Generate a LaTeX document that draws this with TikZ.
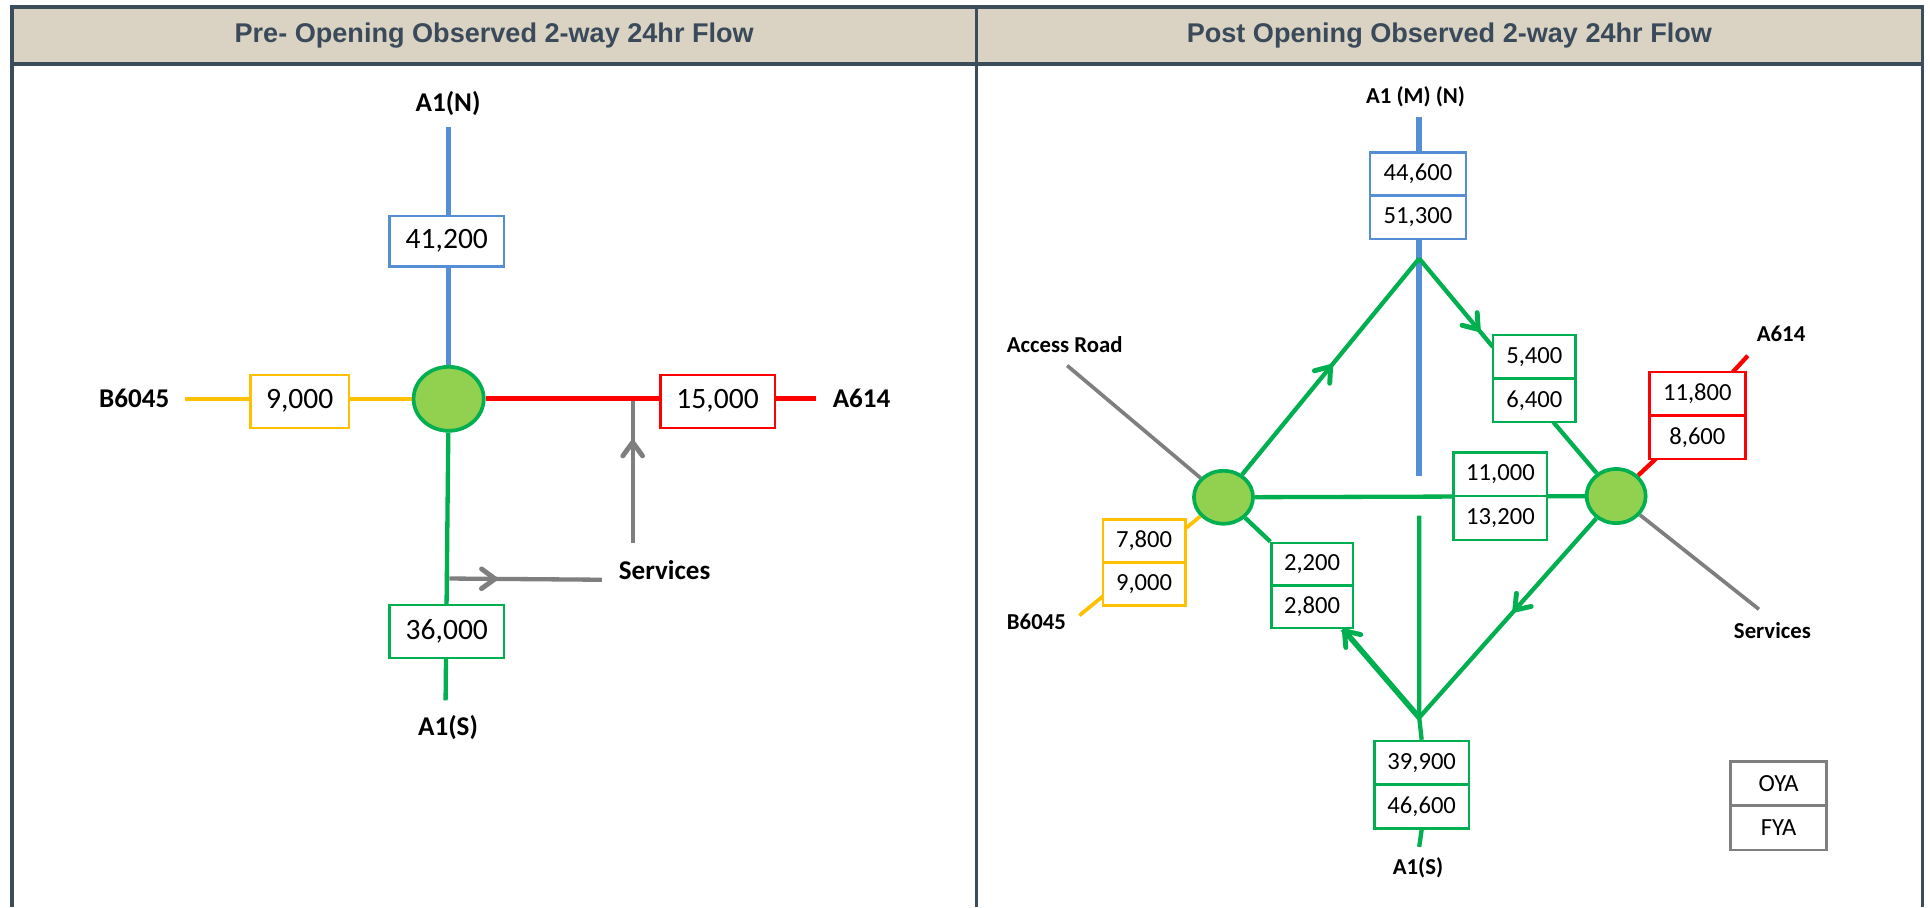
\documentclass[tikz,border=0pt]{standalone}
\usepackage{fontspec}
\setmainfont{Carlito}
\newfontfamily\hdrfont{Liberation Sans}
\usetikzlibrary{arrows.meta,decorations.markings,shapes.geometric,calc}
\pgfdeclarelayer{bottom}
\pgfdeclarelayer{background}
\pgfsetlayers{bottom,background,main}
\definecolor{framec}{RGB}{59,77,91}
\definecolor{hdrfill}{RGB}{218,211,195}
\definecolor{hdrtext}{RGB}{58,74,90}
\definecolor{roadblue}{RGB}{85,142,213}
\definecolor{roadgreen}{RGB}{0,176,80}
\definecolor{nodegreen}{RGB}{146,208,80}
\definecolor{roadyellow}{RGB}{255,192,0}
\definecolor{roadred}{RGB}{255,0,0}
\definecolor{roadgray}{RGB}{127,127,127}
\begin{document}
\begin{tikzpicture}[x=1pt,y=-1pt,
  hdr/.style={font=\hdrfont\bfseries\fontsize{22}{26}\selectfont, text=hdrtext},
  lblL/.style={font=\bfseries\fontsize{22}{26}\selectfont, inner sep=0pt},
  lblR/.style={font=\bfseries\fontsize{18.5}{22}\selectfont, inner sep=0pt},
  boxL/.style={draw=#1, fill=white, line width=2pt, inner sep=0pt, font=\fontsize{24}{28}\selectfont},
  boxR/.style={draw=#1, fill=white, line width=2pt, inner sep=0pt, font=\fontsize{20}{24}\selectfont},
  jn/.style={ellipse, draw=roadgreen, fill=nodegreen, line width=3pt, inner sep=0pt},
  bl/.style={draw=roadblue, line width=4pt},
  gl/.style={draw=roadgreen, line width=3.5pt},
  yl/.style={draw=roadyellow, line width=3pt},
  rl/.style={draw=roadred, line width=4pt},
  grl/.style={draw=roadgray, line width=3.5pt},
  midarrow/.style 2 args={postaction={decorate}, decoration={markings,
     mark=at position #1 with {\draw[#2, line width=4pt, line cap=round, line join=round]
        (-11pt,8pt) -- (0pt,0pt) -- (-11pt,-8pt);}}}
]
\useasboundingbox (0,0) rectangle (1568,737);

% ---------- frame and header ----------
\begin{pgfonlayer}{bottom}
\fill[white] (0,0) rectangle (1568,737);
\fill[hdrfill] (9.5,5.5) rectangle (1562,52);
\end{pgfonlayer}
\node[hdr] (h1) at (401.5,29) {Pre- Opening Observed 2-way 24hr Flow};
\node[hdr] (h2) at (1177.5,29) {Post Opening Observed 2-way 24hr Flow};

% ---------- left panel ----------
\node[jn, minimum width=57pt, minimum height=52pt] (C) at (364.5,324) {};
\node[boxL=roadblue, minimum width=93pt, minimum height=41pt] (bN) at (363,196) {41,200};
\node[boxL=roadyellow, minimum width=80pt, minimum height=43pt] (bW) at (243.5,326) {9,000};
\node[boxL=roadred, minimum width=93pt, minimum height=43pt] (bE) at (583,326) {15,000};
\node[boxL=roadgreen, minimum width=93pt, minimum height=43pt] (bS) at (363,513) {36,000};
\node[lblL] (lN) at (364,84) {A1(N)};
\node[lblL] (lW) at (109,324) {B6045};
\node[lblL] (lE) at (700,324) {A614};
\node[lblL] (lS) at (364,591) {A1(S)};
\node[lblL] (lSv) at (540,463) {Services};
\coordinate (nEnd) at (364.5,103);
\coordinate (wEnd) at (150,324);
\coordinate (eEnd) at (663,324);
\coordinate (sEnd) at (362,569);
\coordinate (sv1) at (514,441);
\coordinate (sv2) at (514,326);
\coordinate (sh1) at (365,470);
\coordinate (sh2) at (489,471);

% ---------- right panel ----------
\node[jn, minimum width=48pt, minimum height=43pt] (L) at (994,404) {};
\node[jn, minimum width=48pt, minimum height=44pt] (R) at (1313,403) {};
\node[boxR=roadblue, minimum width=78pt, minimum height=35pt] (n1) at (1152,141.5) {44,600};
\node[boxR=roadblue, minimum width=78pt, minimum height=35pt] (n2) at (1152,176.5) {51,300};
\node[boxR=roadgreen, minimum width=67pt, minimum height=35.5pt] (g1) at (1246.5,289.75) {5,400};
\node[boxR=roadgreen, minimum width=67pt, minimum height=35.5pt] (g2) at (1246.5,325.25) {6,400};
\node[boxR=roadgreen, minimum width=76pt, minimum height=35.5pt] (m1) at (1219,385.25) {11,000};
\node[boxR=roadgreen, minimum width=76pt, minimum height=35.5pt] (m2) at (1219,420.75) {13,200};
\node[boxR=roadred, minimum width=78pt, minimum height=35.5pt] (r1) at (1379,319.75) {11,800};
\node[boxR=roadred, minimum width=78pt, minimum height=35.5pt] (r2) at (1379,355.25) {8,600};
\node[boxR=roadyellow, minimum width=67pt, minimum height=35pt] (y1) at (929.5,439.5) {7,800};
\node[boxR=roadyellow, minimum width=67pt, minimum height=35pt] (y2) at (929.5,474.5) {9,000};
\node[boxR=roadgreen, minimum width=66pt, minimum height=34.5pt] (k1) at (1066,458.25) {2,200};
\node[boxR=roadgreen, minimum width=66pt, minimum height=34.5pt] (k2) at (1066,492.75) {2,800};
\node[boxR=roadgreen, minimum width=77pt, minimum height=35.5pt] (s1) at (1155,619.75) {39,900};
\node[boxR=roadgreen, minimum width=77pt, minimum height=35.5pt] (s2) at (1155,655.25) {46,600};
\node[boxR=roadgray, minimum width=78pt, minimum height=36pt] (o1) at (1445,636.5) {OYA};
\node[boxR=roadgray, minimum width=78pt, minimum height=36pt] (o2) at (1445,672.5) {FYA};
\node[lblR] (rN) at (1150,79) {A1 (M) (N)};
\node[lblR] (rAcc) at (865,280) {Access Road};
\node[lblR] (rA614) at (1447,271) {A614};
\node[lblR] (rB) at (842,505) {B6045};
\node[lblR] (rSv) at (1440,512) {Services};
\node[lblR] (rS) at (1152,705) {A1(S)};
\coordinate (nTop) at (1153,95);
\coordinate (nBot) at (1153,387);
\coordinate (apN) at (1153,210);
\coordinate (apS) at (1153,583);
\coordinate (gTop) at (1153,419);
\coordinate (e54) at (1213,282);
\coordinate (e64) at (1262,343);
\coordinate (e28) at (1091,511);
\coordinate (sStub) at (1153,688);
\coordinate (acc) at (867,297);
\coordinate (svc) at (1429,495);
\coordinate (ye) at (877,500);
\coordinate (ra) at (1345,373);
\coordinate (rb) at (1408,302);
\coordinate (rc) at (1420,289);

\begin{pgfonlayer}{background}
  % left panel roads
  \draw[bl] (nEnd) -- (C);
  \draw[yl] (wEnd) -- (C);
  \draw[rl] (C) -- (eEnd);
  \draw[gl] (C) -- (sEnd);
  \draw[grl, midarrow={0.71}{roadgray}] (sv1) -- (sv2);
  \draw[grl, midarrow={0.3}{roadgray}] (sh1) -- (sh2);
  % right panel roads
  \draw[bl, line width=5pt] (nTop) -- (nBot);
  \draw[gl, midarrow={0.5}{roadgreen}] (L) -- (apN);
  \draw[gl, midarrow={0.8}{roadgreen}] (apN) -- (e54);
  \draw[gl] (e64) -- (R);
  \draw[gl] (L) -- (R);
  \draw[gl, midarrow={0.46}{roadgreen}] (R) -- (apS);
  \draw[gl, line width=4.5pt, midarrow={0.98}{roadgreen}] (apS) -- (e28);
  \draw[gl] (L) -- (k1.north west);
  \draw[gl] (gTop) -- (apS) -- (s1.north);
  \draw[gl] (s2.south) -- (sStub);
  \draw[grl, line width=3pt] (acc) -- (L);
  \draw[grl, line width=3pt] (R) -- (svc);
  \draw[yl] (L) -- (ye);
  \draw[rl, line width=3.5pt, line join=round] (R) -- (ra) -- (rb) -- (rc);
\end{pgfonlayer}

% frame lines on top
\draw[framec, line width=3pt] (9.5,737) -- (9.5,5.5) -- (1562,5.5) -- (1562,737);
\draw[framec, line width=3pt] (9.5,52) -- (1562,52);
\draw[framec, line width=2pt] (793.5,5.5) -- (793.5,737);
\end{tikzpicture}
\end{document}
